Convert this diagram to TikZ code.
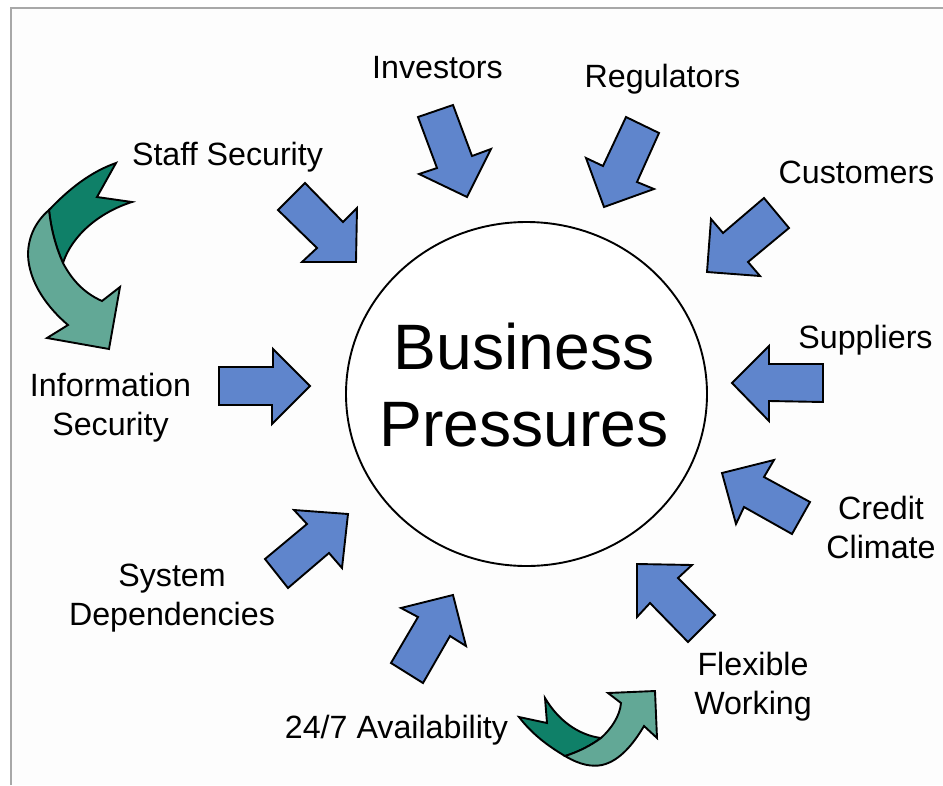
\documentclass[tikz,border=0pt]{standalone}
\usepackage{fontspec}
\setmainfont{Liberation Sans}
\usetikzlibrary{shapes.geometric}
\definecolor{arrowblue}{HTML}{5F85CC}
\definecolor{darkgreen}{HTML}{0F8068}
\definecolor{lightgreen}{HTML}{62A896}
\definecolor{framegray}{HTML}{A8A8A8}
\definecolor{paper}{HTML}{FDFDFD}
\tikzset{
  bluearrow/.style={draw=black,line width=1.9pt,fill=arrowblue,line join=miter},
  darkcurve/.style={draw=black,line width=1.9pt,fill=darkgreen,line join=miter},
  lightcurve/.style={draw=black,line width=1.9pt,fill=lightgreen,line join=miter},
  label/.style={font=\fontsize{32.2}{39}\selectfont,align=center,inner sep=0pt,text=black},
  hub/.style={ellipse,draw=black,line width=1.9pt,fill=white,minimum width=361pt,minimum height=344pt,inner sep=0pt},
  hubtext/.style={font=\fontsize{64.2}{77.5}\selectfont,align=center,inner sep=0pt,text=black}
}
\begin{document}
\begin{tikzpicture}[x=1pt,y=-1pt]
\useasboundingbox (0,0) rectangle (943,785);
\fill[white] (0,0) rectangle (943,785);
\fill[paper] (12,9) rectangle (943,785);
\draw[framegray,line width=2pt] (11,785) -- (11,8) -- (943,8);

\node[hub] (hub) at (526.5,394) {};
\node[hubtext] (hubtitle) at (524,385) {Business\\Pressures};

% blue arrows
\draw[bluearrow] (418,117)--(453,105)--(472,156)--(491,149)--(467,197)--(419,174)--(437,168)--cycle;
\draw[bluearrow] (626,117)--(659,133)--(637,182)--(654,189)--(604,207)--(586,158)--(603,166)--cycle;
\draw[bluearrow] (764,198)--(789,228)--(748,262)--(760,276)--(707,272)--(711,219)--(723,233)--cycle;
\draw[bluearrow] (732,383)--(769,346)--(769,364)--(823,364)--(823,402)--(769,401)--(769,421)--cycle;
\draw[bluearrow] (722,473)--(774,460)--(764,477)--(810,502)--(792,534)--(744,507)--(736,524)--cycle;
\draw[bluearrow] (637,564)--(692,565)--(678,578)--(715,615)--(688,642)--(650,603)--(637,617)--cycle;
\draw[bluearrow] (305,183)--(278,210)--(317,248)--(302,262)--(356,262)--(357,208)--(343,222)--cycle;
\draw[bluearrow] (219,367)--(273,367)--(273,349)--(310,386)--(272,424)--(272,405)--(219,405)--cycle;
\draw[bluearrow] (294,510)--(348,514)--(342,568)--(329,553)--(288,588)--(265,559)--(307,524)--cycle;
\draw[bluearrow] (401,608)--(453,595)--(466,646)--(450,636)--(423,683)--(391,663)--(418,617)--cycle;

% left curved arrow
\draw[darkcurve] (116,163)--(97,197)--(132,202)
  .. controls (100,212) and (72,235) .. (63,263)
  .. controls (55,245) and (51,228) .. (49,210)
  .. controls (68,190) and (90,172) .. (116,163) -- cycle;
\draw[lightcurve] (49,210)
  .. controls (35,222) and (28,238) .. (28,255)
  .. controls (29,283) and (48,308) .. (68,325)
  -- (47,338) -- (109,349) -- (120,287) -- (102,301)
  .. controls (84,293) and (72,280) .. (63,263)
  .. controls (55,245) and (51,228) .. (49,210) -- cycle;

% bottom curved arrow
\draw[darkcurve] (519,717)--(547,723)--(545,698)
  .. controls (558,720) and (578,735) .. (601,738)
  .. controls (590,746) and (578,752) .. (565,756)
  .. controls (548,746) and (532,734) .. (519,717) -- cycle;
\draw[lightcurve] (565,756)
  .. controls (580,765) and (592,767) .. (602,765)
  .. controls (620,761) and (634,743) .. (644,726)
  -- (657,738) -- (655,691) -- (608,693) -- (621,703)
  .. controls (620,716) and (611,729) .. (601,738)
  .. controls (590,746) and (578,752) .. (565,756) -- cycle;

% labels
\node[label,anchor=base] (investors) at (437.5,78) {Investors};
\node[label,anchor=base] (regulators) at (662.5,87) {Regulators};
\node[label,anchor=base] (customers) at (856.5,183) {Customers};
\node[label,anchor=base] (suppliers) at (865.5,348) {Suppliers};
\node[label] (credit) at (881,527) {Credit\\Climate};
\node[label] (flexible) at (753,687) {Flexible\\Working};
\node[label,anchor=base] (avail) at (396.5,738) {24/7 Availability};
\node[label] (system) at (172,598) {System\\Dependencies};
\node[label] (info) at (110.5,407.5) {Information\\Security};
\node[label,anchor=base] (staff) at (227.5,165) {Staff Security};
\end{tikzpicture}
\end{document}
